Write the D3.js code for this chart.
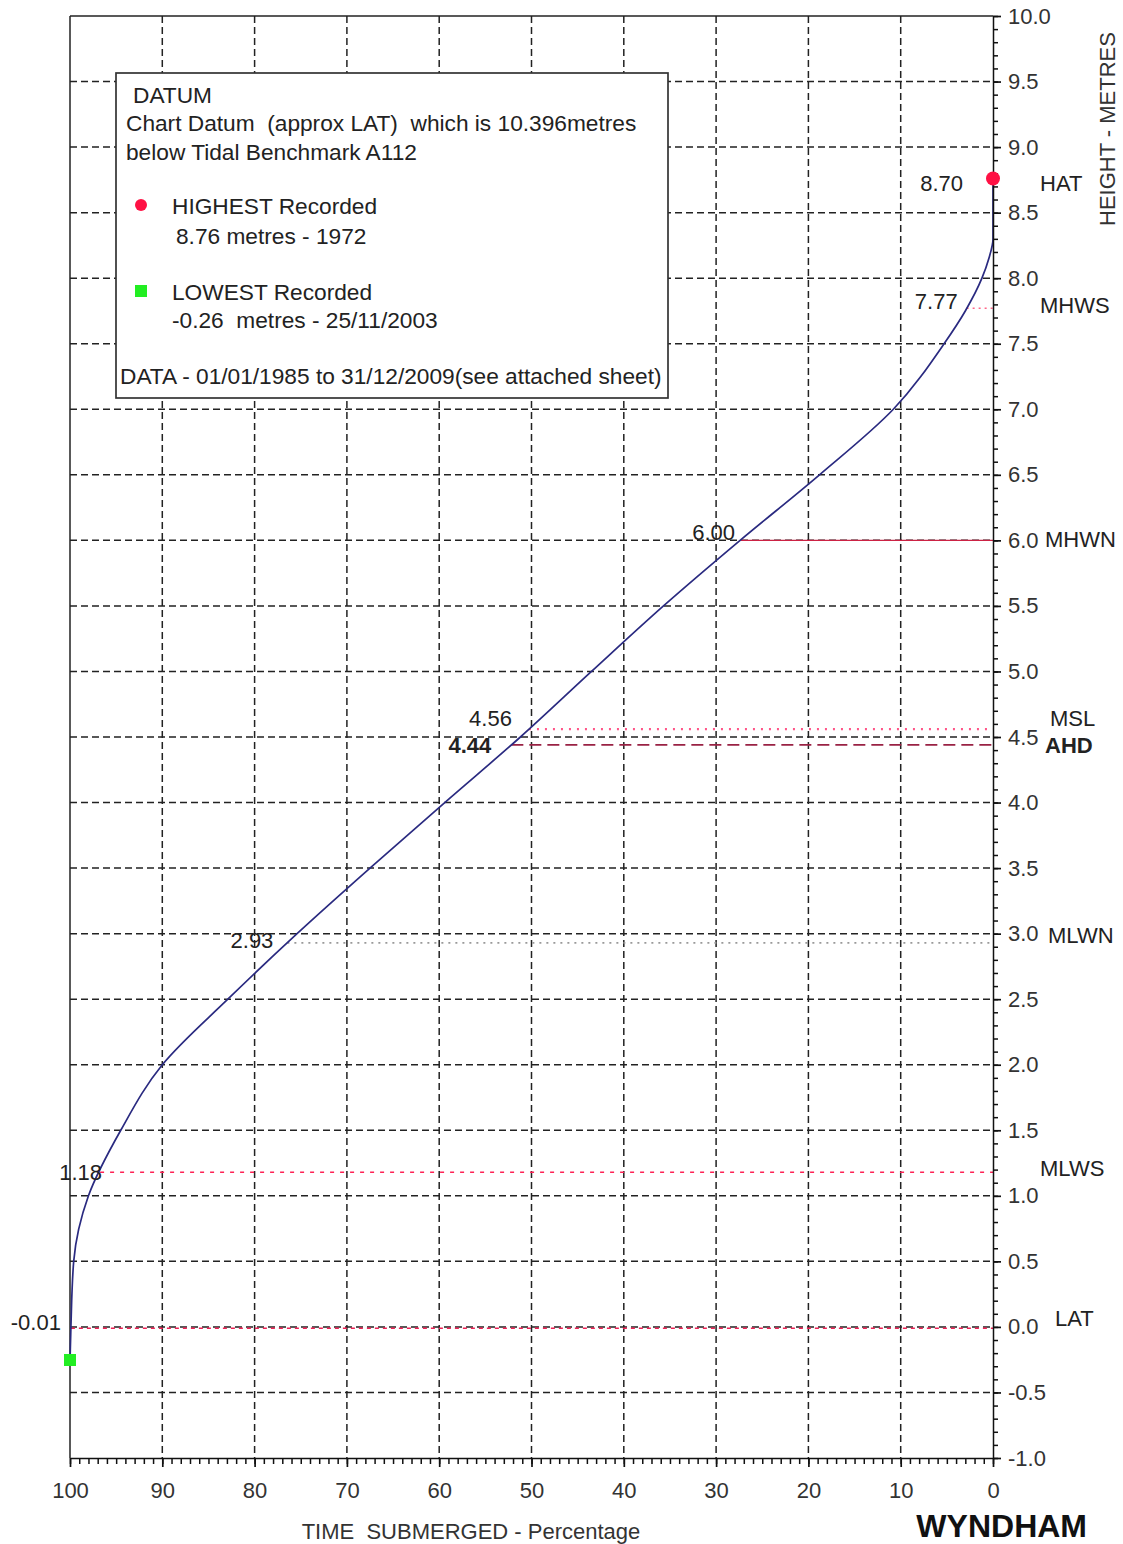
<!DOCTYPE html>
<html>
<head>
<meta charset="utf-8">
<script src="https://cdn.jsdelivr.net/npm/d3@7"></script>
<style>
  body { margin: 0; background: #fff; }
  svg { display: block; font-family: "Liberation Sans", Arial, sans-serif; }
</style>
</head>
<body>
<svg width="1123" height="1544"></svg>
<script>
// curve: height (m) vs percentage of time submerged
const heights = [-0.26, 0.0, 0.5, 1.0, 1.5, 2.0, 2.5, 3.0, 3.5, 4.0, 4.5, 5.0, 5.5, 6.0, 6.5, 7.0, 7.5, 7.75, 8.0, 8.15, 8.3, 8.76];
const percent = [100, 99.9, 99.6, 98.0, 94.5, 90.0, 82.9, 75.4, 67.5, 59.4, 51.2, 43.5, 35.7, 27.4, 18.8, 10.8, 5.3, 3.0, 1.2, 0.45, 0, 0];

// tidal levels
const levelNames  = ["HAT", "MHWS", "MHWN", "MSL", "AHD", "MLWN", "MLWS", "LAT"];
const levelValues = [8.70, 7.77, 6.00, 4.56, 4.44, 2.93, 1.18, -0.01];
const levelLabels = ["8.70", "7.77", "6.00", "4.56", "4.44", "2.93", "1.18", "-0.01"];

const yTicks = d3.range(-1, 10.01, 0.5);
const xTicks = d3.range(0, 101, 10);

const highest = {pct: 0, h: 8.76};
const lowest = {pct: 100, h: -0.26};

const svg = d3.select("svg");

const x = d3.scaleLinear().domain([100, 0]).range([70, 993]);
const y = d3.scaleLinear().domain([-1, 10]).range([1458, 16]);

// style per level (line + label placement)
const levelStyle = {
  HAT:  {stroke: "#ff4466", dash: "2,3", w: 1.5, dx: -30, dy: -3, rx: 1040, rdy: -3},
  MHWS: {stroke: "#ff6688", dash: "2,4", w: 1.5, dx: -9,  dy: -7, rx: 1040, rdy: -3},
  MHWN: {stroke: "#cc2244", dash: null,  w: 1.3, dx: -5,  dy: -8, rx: 1045, rdy: -1},
  MSL:  {stroke: "#ff5588", dash: "2,6", w: 2.2, dx: -17, dy: -11, rx: 1050, rdy: -11},
  AHD:  {stroke: "#992244", dash: "12,6", w: 1.6, dx: -20, dy: 0, rx: 1045, rdy: 0, bold: true},
  MLWN: {stroke: "#999999", dash: "2,5", w: 1.8, dx: -14, dy: -3, rx: 1048, rdy: -8},
  MLWS: {stroke: "#ff2255", dash: "4,6", w: 1.6, dx: 2,   dy: 0, rx: 1040, rdy: -4},
  LAT:  {stroke: "#ee2255", dash: "4,4", w: 1.5, dx: -10, dy: -6, rx: 1055, rdy: -10}
};

const fs = 22;
const fmt = d => d.toFixed(1);

// percentage where the curve crosses a height
const crossing = d3.scaleLinear().domain(heights.slice(0, -1)).range(percent.slice(0, -1)).clamp(true);

// grid
const grid = svg.append("g").attr("stroke", "#222").attr("stroke-width", 1.5).attr("stroke-dasharray", "7,4");
grid.selectAll("line.h")
  .data(yTicks.filter(d => d > -1 && d < 10))
  .join("line")
    .attr("x1", x(100)).attr("x2", x(0))
    .attr("y1", d => y(d)).attr("y2", d => y(d));
grid.selectAll("line.v")
  .data(xTicks.filter(d => d > 0 && d < 100))
  .join("line")
    .attr("y1", y(10)).attr("y2", y(-1))
    .attr("x1", d => x(d)).attr("x2", d => x(d));

// frame top + left
svg.append("line").attr("x1", x(100)).attr("x2", x(0)).attr("y1", y(10)).attr("y2", y(10))
  .attr("stroke", "#222").attr("stroke-width", 1.5);
svg.append("line").attr("x1", x(100)).attr("x2", x(100)).attr("y1", y(10)).attr("y2", y(-1))
  .attr("stroke", "#222").attr("stroke-width", 1.5);

// level lines
const levels = levelNames.map((n, i) => ({name: n, h: levelValues[i], label: levelLabels[i]}));
svg.append("g").selectAll("line")
  .data(levels)
  .join("line")
    .attr("x1", d => x(crossing(d.h))).attr("x2", x(0))
    .attr("y1", d => y(d.h)).attr("y2", d => y(d.h))
    .attr("stroke", d => levelStyle[d.name].stroke)
    .attr("stroke-width", d => levelStyle[d.name].w)
    .attr("stroke-dasharray", d => levelStyle[d.name].dash);

// curve
const line = d3.line()
  .x((d, i) => x(percent[i]))
  .y(d => y(d))
  .curve(d3.curveMonotoneY);
svg.append("path")
  .datum(heights)
  .attr("d", line)
  .attr("fill", "none")
  .attr("stroke", "#2a2a80")
  .attr("stroke-width", 1.7);

// level value labels
svg.append("g").selectAll("text")
  .data(levels)
  .join("text")
    .attr("x", d => x(crossing(d.h)) + levelStyle[d.name].dx)
    .attr("y", d => y(d.h) + levelStyle[d.name].dy)
    .attr("dy", "0.35em")
    .attr("text-anchor", "end")
    .attr("font-size", fs)
    .attr("font-weight", d => levelStyle[d.name].bold ? "bold" : null)
    .attr("fill", "#222")
    .text(d => d.label);

// level names on the right
svg.append("g").selectAll("text")
  .data(levels)
  .join("text")
    .attr("x", d => levelStyle[d.name].rx)
    .attr("y", d => y(d.h) + levelStyle[d.name].rdy)
    .attr("dy", "0.35em")
    .attr("font-size", fs)
    .attr("font-weight", d => levelStyle[d.name].bold ? "bold" : null)
    .attr("fill", "#222")
    .text(d => d.name);

// right axis: minor + major
svg.append("g")
  .attr("transform", `translate(${x(0)},0)`)
  .call(d3.axisRight(y).tickValues(d3.range(-10, 101, 1).map(d => d / 10)).tickSize(5).tickFormat("").tickSizeOuter(0))
  .call(g => g.selectAll("line, path").attr("stroke", "#111").attr("stroke-width", 1.5));
svg.append("g")
  .attr("transform", `translate(${x(0)},0)`)
  .call(d3.axisRight(y).tickValues(yTicks).tickSize(8).tickPadding(7).tickFormat(fmt).tickSizeOuter(0))
  .call(g => g.select(".domain").remove())
  .call(g => g.selectAll("line").attr("stroke", "#111").attr("stroke-width", 1.7))
  .call(g => g.selectAll("text").attr("font-size", fs).attr("fill", "#333").attr("font-family", "Liberation Sans, Arial, sans-serif"));

// bottom axis: minor + major
svg.append("g")
  .attr("transform", `translate(0,${y(-1)})`)
  .call(d3.axisBottom(x).tickValues(d3.range(0, 101, 1)).tickSize(6).tickFormat("").tickSizeOuter(0))
  .call(g => g.selectAll("line, path").attr("stroke", "#111").attr("stroke-width", 1.5));
svg.append("g")
  .attr("transform", `translate(0,${y(-1)})`)
  .call(d3.axisBottom(x).tickValues(xTicks).tickSize(9).tickPadding(15).tickFormat(d3.format("d")).tickSizeOuter(0))
  .call(g => g.select(".domain").remove())
  .call(g => g.selectAll("line").attr("stroke", "#111").attr("stroke-width", 1.7))
  .call(g => g.selectAll("text").attr("font-size", fs).attr("fill", "#333").attr("font-family", "Liberation Sans, Arial, sans-serif"));

// extreme points
svg.append("circle").attr("cx", x(highest.pct)).attr("cy", y(highest.h)).attr("r", 7).attr("fill", "#ff1144");
svg.append("rect").attr("x", x(lowest.pct) - 6).attr("y", y(lowest.h) - 7).attr("width", 12).attr("height", 12).attr("fill", "#22ee22");

// axis titles
svg.append("text")
  .attr("transform", "translate(1115,129) rotate(-90)")
  .attr("text-anchor", "middle")
  .attr("font-size", fs).attr("fill", "#333")
  .text("HEIGHT - METRES");
svg.append("text")
  .attr("x", 471).attr("y", 1539)
  .attr("text-anchor", "middle")
  .attr("font-size", fs).attr("fill", "#333")
  .attr("xml:space", "preserve")
  .text("TIME  SUBMERGED - Percentage");
svg.append("text")
  .attr("x", 1087).attr("y", 1537)
  .attr("text-anchor", "end")
  .attr("font-size", 32).attr("font-weight", "bold").attr("fill", "#111")
  .text("WYNDHAM");

// datum box
const box = svg.append("g");
box.append("rect").attr("x", 116).attr("y", 73).attr("width", 552).attr("height", 325)
  .attr("fill", "#fff").attr("stroke", "#333").attr("stroke-width", 1.7);
const boxText = [
  {t: "DATUM", x: 133, y: 95},
  {t: "Chart Datum  (approx LAT)  which is 10.396metres", x: 126, y: 123},
  {t: "below Tidal Benchmark A112", x: 126, y: 152},
  {t: "HIGHEST Recorded", x: 172, y: 206},
  {t: "8.76 metres - 1972", x: 176, y: 236},
  {t: "LOWEST Recorded", x: 172, y: 292},
  {t: "-0.26  metres - 25/11/2003", x: 172, y: 320},
  {t: "DATA - 01/01/1985 to 31/12/2009(see attached sheet)", x: 120, y: 376}
];
box.selectAll("text")
  .data(boxText)
  .join("text")
    .attr("x", d => d.x).attr("y", d => d.y)
    .attr("dy", "0.35em")
    .attr("font-size", 22.7).attr("fill", "#222")
    .attr("xml:space", "preserve")
    .text(d => d.t);
box.append("circle").attr("cx", 141).attr("cy", 205).attr("r", 6).attr("fill", "#ff1144");
box.append("rect").attr("x", 135).attr("y", 285).attr("width", 12).attr("height", 12).attr("fill", "#22ee22");
</script>
</body>
</html>
